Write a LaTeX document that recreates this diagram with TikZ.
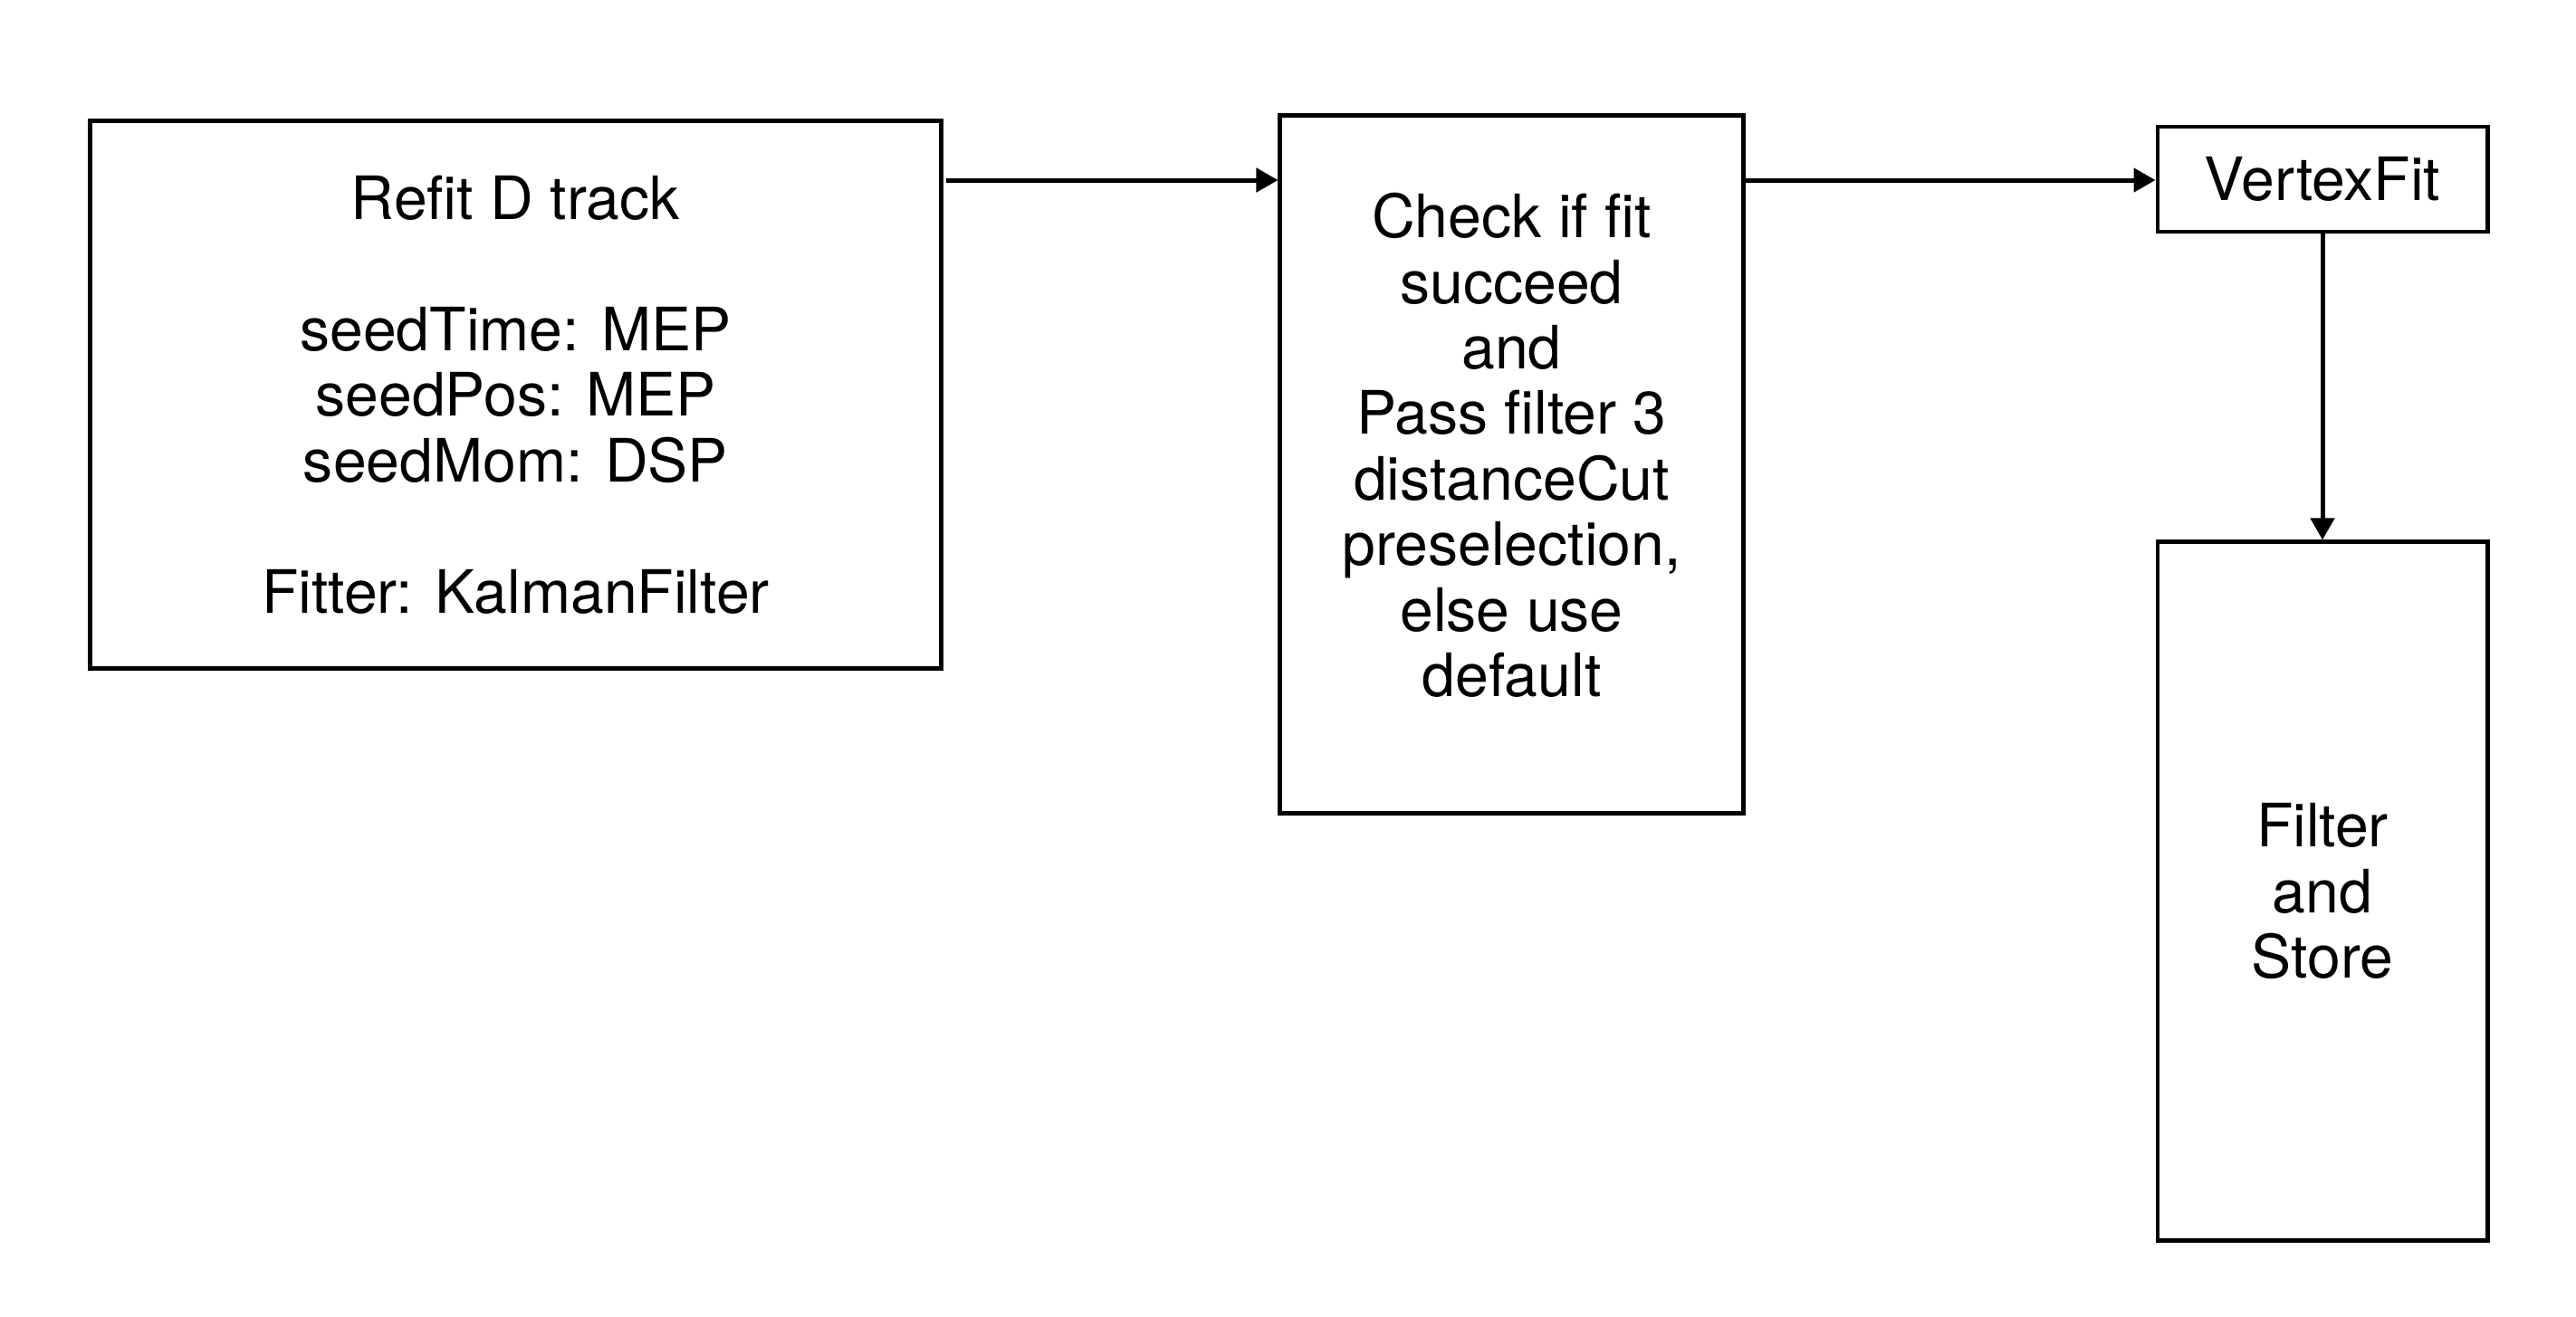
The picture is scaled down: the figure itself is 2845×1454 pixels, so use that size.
\documentclass[tikz,border=0pt]{standalone}
\usepackage{fontspec}
\setmainfont{TeX Gyre Heros}
\usetikzlibrary{arrows.meta}
\begin{document}
\begin{tikzpicture}[x=0.01cm,y=-0.01cm,
  lbl/.style={font=\fontsize{18.8pt}{20.6pt}\selectfont},
  box/.style={draw, line width=0.048cm, inner sep=0pt, align=center, lbl},
  txt/.style={align=center, inner sep=0pt, lbl},
  conn/.style={line width=0.05cm, -{Triangle[length=0.24cm,width=0.26cm]}}]
\useasboundingbox (0,0) rectangle (2845,1454);
\node[box, minimum width=9.39cm, minimum height=6.04cm] (refit) at (569.5,436)
  {Refit D track\\[20.6pt]seedTime: MEP\\seedPos: MEP\\seedMom: DSP\\[20.6pt]Fitter: KalmanFilter};
\node[box, minimum width=5.11cm, minimum height=7.70cm] (check) at (1669.5,513) {};
\node[txt] (checktext) at (1669.5,492)
  {Check if fit\\succeed\\and\\Pass filter 3\\distanceCut\\preselection,\\else use\\default};
\node[box, minimum width=3.64cm, minimum height=1.16cm] (vfit) at (2565,198) {VertexFit};
\node[box, minimum width=3.64cm, minimum height=7.71cm] (store) at (2565,984.5) {Filter\\and\\Store};
\coordinate (row) at (0,199);
\draw[conn] ([xshift=0.03cm]refit.east |- row) -- (check.west |- row);
\draw[conn] (check.east |- row) -- (vfit.west |- row);
\draw[conn] (vfit.south) -- (store.north);
\end{tikzpicture}
\end{document}
